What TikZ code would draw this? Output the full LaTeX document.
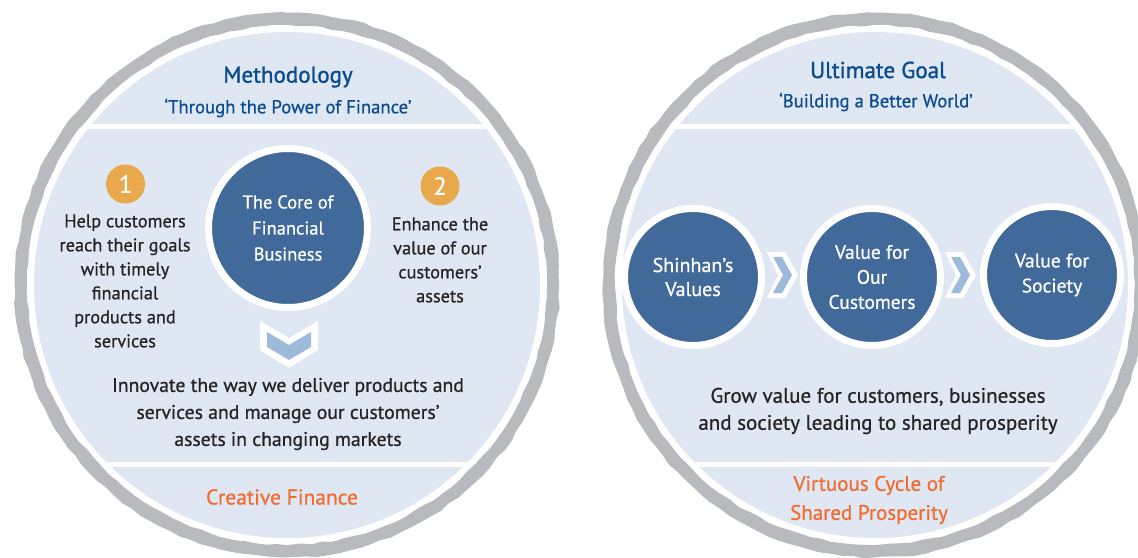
\documentclass[tikz,border=0pt]{standalone}
\usepackage{fontspec}
\setmainfont{PT Sans}
\newfontfamily\medfont{PT Sans}[FakeBold=0.7]
\newfontfamily\semifont{PT Sans}[FakeBold=1.3]
\usetikzlibrary{decorations.pathmorphing}

\definecolor{ringgray}{HTML}{B9BABE}
\definecolor{panel}{HTML}{DFE7F2}
\definecolor{coreblue}{HTML}{416A9B}
\definecolor{badgeorange}{HTML}{E9A84C}
\definecolor{accentorange}{HTML}{F26B2F}
\definecolor{titleblue}{HTML}{0B4C90}
\definecolor{bodytext}{HTML}{262324}
\definecolor{chevblue}{HTML}{9DBADB}

\newcommand\fsz[2]{\fontsize{#1}{#2}\selectfont}

\tikzset{
  ring/.style={draw=ringgray},
  rough/.style={decorate, decoration={random steps, segment length=11pt, amplitude=1.1pt}},
  body/.style={align=center, text=bodytext, inner sep=0pt},
  title/.style={align=center, text=titleblue, inner sep=0pt},
  accent/.style={align=center, text=accentorange, inner sep=0pt},
  badge/.style={circle, fill=badgeorange, text=white, minimum size=39pt, inner sep=0pt, font=\medfont\fsz{25}{25}},
  valuecircle/.style={circle, fill=coreblue, draw=white, line width=7pt, text=white, align=center, inner sep=0pt},
  chevout/.style={fill=white},
  chevin/.style={fill=chevblue},
}

\begin{document}
\begin{tikzpicture}[x=1pt,y=-1pt]
\useasboundingbox (0,0) rectangle (1138,557);
\clip (0,0) rectangle (1138,557);
\pgfmathsetseed{7}

% two large discs with a brushed grey rim and banded panels
\foreach \cx in {287,875} {
  \draw[ring, line width=11pt] (\cx,285) circle[radius=266];
  \draw[ring, line width=2.5pt, rough] (\cx,285) circle[radius=261];
  \draw[ring, line width=2.5pt, rough] (\cx,285) circle[radius=271];
  \begin{scope}
    \clip (\cx,285) circle[radius=253];
    \fill[panel] (\cx-260,20) rectangle (\cx+260,545);
    \fill[white] (\cx-260,123.5) rectangle (\cx+260,128.5);
    \fill[white] (\cx-260,461.5) rectangle (\cx+260,466.5);
  \end{scope}
}

% ---------------- left disc: methodology ----------------
\node[title, font=\semifont\fsz{23}{26}] (meth) at (288,77) {Methodology};
\node[title, font=\medfont\fsz{18.7}{22}] (methsub) at (288,108) {‘Through the Power of Finance’};

\node[valuecircle, minimum size=159pt, font=\medfont\fsz{18.5}{26}] (core) at (288,228) {The Core of\\Financial\\Business};

\node[badge] (b1) at (125.5,184) {1};
\node[badge] (b2) at (440,186) {2};

\node[body, font=\medfont\fsz{18.3}{24}] (help) at (125,281) {Help customers\\reach their goals\\with timely\\financial\\products and\\services};
\node[body, font=\medfont\fsz{18.3}{24}] (enh) at (440,260) {Enhance the\\value of our\\customers’\\assets};

% downward chevron
\fill[chevout] (260,321) -- (289,338) -- (318,321) -- (318,350) -- (289,368) -- (260,350) -- cycle;
\fill[chevin] (267,332) -- (289,345) -- (311,332) -- (311,347) -- (289,360) -- (267,347) -- cycle;

\node[body, font=\medfont\fsz{19.7}{27}] (innov) at (288,414) {Innovate the way we deliver products and\\services and manage our customers’\\assets in changing markets};

\node[accent, font=\medfont\fsz{21.5}{24}] (creative) at (282,497) {Creative Finance};

% ---------------- right disc: ultimate goal ----------------
\node[title, font=\semifont\fsz{23}{26}] (goal) at (878,70) {Ultimate Goal};
\node[title, font=\medfont\fsz{18.7}{22}] (goalsub) at (876,102) {‘Building a Better World’};

\node[valuecircle, minimum size=137pt, font=\medfont\fsz{20}{24}] (shinhan) at (693,277) {Shinhan’s\\Values};
\node[valuecircle, minimum size=137pt, font=\medfont\fsz{19.5}{25}] (cust) at (872,277) {Value for\\Our\\Customers};
\node[valuecircle, minimum size=137pt, font=\medfont\fsz{19.5}{25}] (soc) at (1052,275) {Value for\\Society};

% rightward chevrons between the value circles
\foreach \dx in {0,178} {
  \begin{scope}[xshift=\dx pt]
    \fill[chevout] (767,252) -- (785,252) -- (798,275) -- (785,298) -- (767,298) -- (778,275) -- cycle;
    \fill[chevin] (773,257) -- (782,257) -- (792,275) -- (782,293) -- (773,293) -- (783,275) -- cycle;
  \end{scope}
}

\node[body, font=\medfont\fsz{21}{27}] (grow) at (878,411) {Grow value for customers, businesses\\and society leading to shared prosperity};

\node[accent, font=\medfont\fsz{21}{29}] (virt) at (869,500) {Virtuous Cycle of\\Shared Prosperity};
\end{tikzpicture}
\end{document}
